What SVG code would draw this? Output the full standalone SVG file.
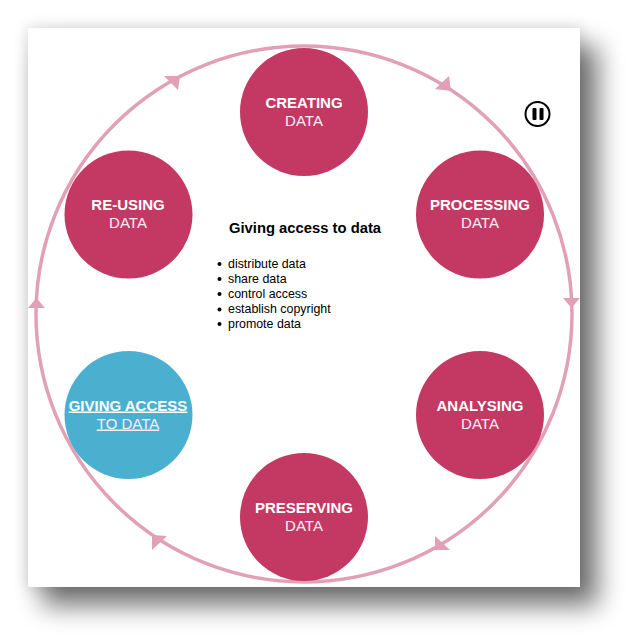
<svg xmlns="http://www.w3.org/2000/svg" width="636" height="643" viewBox="0 0 636 643">
<style>
text{font-family:"Liberation Sans",Arial,sans-serif}
.node{fill:#c33963}
.blue{fill:#4bb0d0}
.b{font-size:15px;font-weight:700;fill:#fff;text-anchor:middle}
.r{font-size:15px;fill:#fbeef2;text-anchor:middle}
.li{font-size:12.400px;fill:#000}
.dot{fill:#000}
.ah{fill:#e2a0b7}
</style>
<defs>
<filter id="s1" x="-30%" y="-30%" width="160%" height="160%"><feGaussianBlur stdDeviation="13"/></filter>
<filter id="s2" x="-30%" y="-30%" width="160%" height="160%"><feGaussianBlur stdDeviation="7"/></filter>
</defs>
<rect width="636" height="643" fill="#fff"/>
<rect x="26" y="26" width="556" height="563" fill="#000" opacity=".12" filter="url(#s2)"/>
<rect x="42" y="46" width="556" height="560" fill="#000" opacity=".54" filter="url(#s1)"/>
<rect x="28" y="28" width="552" height="559" fill="#fff"/>
<g id="connectors">
<circle cx="304" cy="314" r="268" fill="none" stroke="#e2a0b7" stroke-width="3.500"/>
<polygon class="ah" points="449,76 435,89 451,91"/>
<polygon class="ah" points="563,298 580,298 571.500,308"/>
<polygon class="ah" points="435,536 450,550 435,550"/>
<polygon class="ah" points="167,536 152,550 152,535"/>
<polygon class="ah" points="28,308 45,308 36.500,298"/>
<polygon class="ah" points="164,76 178,90 180,76"/>
</g>
<g id="creating"><circle class="node" cx="304" cy="112" r="64"/><text class="b" x="304" y="107.500">CREATING</text><text class="r" x="304" y="126">DATA</text></g>
<g id="processing"><circle class="node" cx="480" cy="214.500" r="64"/><text class="b" x="480" y="209.500">PROCESSING</text><text class="r" x="480" y="228">DATA</text></g>
<g id="analysing"><circle class="node" cx="480" cy="415" r="64"/><text class="b" x="480" y="410.500">ANALYSING</text><text class="r" x="480" y="428.500">DATA</text></g>
<g id="preserving"><circle class="node" cx="304" cy="517" r="64"/><text class="b" x="304" y="512.500">PRESERVING</text><text class="r" x="304" y="531">DATA</text></g>
<g id="giving-access"><circle class="blue" cx="128.500" cy="415" r="64"/><text class="b" x="128" y="410.500" text-decoration="underline">GIVING ACCESS</text><text class="r" x="128" y="428.500" text-decoration="underline">TO DATA</text></g>
<g id="re-using"><circle class="node" cx="128.500" cy="214.500" r="64"/><text class="b" x="128" y="209.500">RE-USING</text><text class="r" x="128" y="228">DATA</text></g>
<g id="pause">
<circle cx="537.500" cy="114" r="12" fill="#fff" stroke="#000" stroke-width="2"/>
<rect x="532.500" y="108" width="4" height="12" rx="1"/>
<rect x="539.500" y="108" width="4" height="12" rx="1"/>
</g>
<g id="detail">
<text x="305" y="233" style="font-size:14.800px;font-weight:700;fill:#000;text-anchor:middle">Giving access to data</text>
<circle class="dot" cx="219.500" cy="264" r="2"/><text class="li" x="228" y="268">distribute data</text>
<circle class="dot" cx="219.500" cy="279" r="2"/><text class="li" x="228" y="283">share data</text>
<circle class="dot" cx="219.500" cy="294" r="2"/><text class="li" x="228" y="298">control access</text>
<circle class="dot" cx="219.500" cy="309.500" r="2"/><text class="li" x="228" y="313">establish copyright</text>
<circle class="dot" cx="219.500" cy="324" r="2"/><text class="li" x="228" y="328">promote data</text>
</g>
</svg>
